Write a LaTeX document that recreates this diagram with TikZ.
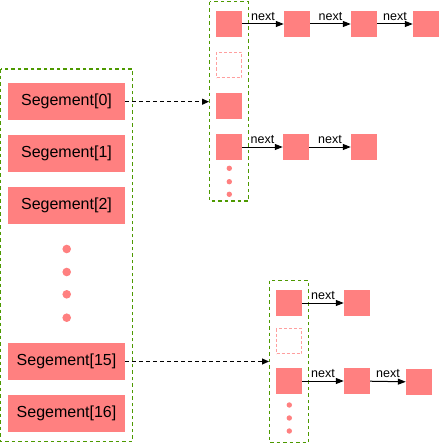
\documentclass[tikz,border=0pt]{standalone}
\usepackage{fontspec}
\setmainfont{Liberation Sans}
\usetikzlibrary{arrows.meta}
\definecolor{salmon}{HTML}{FF8080}
\definecolor{lightsalmon}{HTML}{FF9F9F}
\definecolor{grn}{HTML}{4D9900}
\begin{document}
\begin{tikzpicture}[x=1pt,y=-1pt,
  cell/.style={fill=salmon,minimum size=26pt,inner sep=0pt},
  emptycell/.style={draw=lightsalmon,dashed,dash pattern=on 3pt off 2pt,line width=1pt,minimum size=25pt,inner sep=0pt},
  seg/.style={fill=salmon,minimum width=117pt,minimum height=36.7pt,inner sep=0pt,font=\fontsize{16}{19}\selectfont},
  box/.style={draw=grn,line width=1.3pt,dash pattern=on 3.5pt off 3pt},
  nxt/.style={-{Triangle[length=8pt,width=6pt]},line width=1pt,black},
  lbl/.style={font=\fontsize{12.5}{14}\selectfont,inner sep=0pt,anchor=south,yshift=3pt},
  link/.style={-{Triangle[length=7pt,width=6pt]},line width=1pt,black,dash pattern=on 3.5pt off 3.5pt},
  dot/.style={circle,fill=salmon,inner sep=0pt}]
\useasboundingbox (0,0) rectangle (440,444);
% containers
\draw[box] (0.7,69) rectangle (132.5,441.5);
\draw[box] (209.5,1.7) rectangle (248.3,201);
\draw[box] (269.5,280.7) rectangle (308.7,442.5);
% segments
\node[seg] (s0) at (66.5,101.7) {Segement[0]};
\node[seg] (s1) at (66.5,153.3) {Segement[1]};
\node[seg] (s2) at (66.5,205.3) {Segement[2]};
\node[seg] (s15) at (66.5,361.5) {Segement[15]};
\node[seg] (s16) at (66.5,413.3) {Segement[16]};
\foreach \y/\n in {249/a,272/b,294.3/c,317.7/d}
  \node[dot,minimum size=8.6pt] (ld\n) at (66.7,\y) {};
% top bucket
\node[cell] (t1) at (229,24) {};
\node[emptycell] (t2) at (229,65) {};
\node[cell] (t3) at (229,106) {};
\node[cell] (t4) at (229,147) {};
\foreach \y/\n in {168.3/a,181.7/b,194.3/c}
  \node[dot,minimum size=5.4pt] (td\n) at (229.3,\y) {};
\node[cell] (t1b) at (297,24) {};
\node[cell] (t1c) at (364,24) {};
\node[cell] (t1d) at (426,24) {};
\node[cell] (t4b) at (296,147) {};
\node[cell] (t4c) at (364,147) {};
\draw[nxt] (t1) -- node[lbl]{next} (t1b);
\draw[nxt] (t1b) -- node[lbl]{next} (t1c);
\draw[nxt] (t1c) -- node[lbl]{next} (t1d);
\draw[nxt] (t4) -- node[lbl]{next} (t4b);
\draw[nxt] (t4b) -- node[lbl]{next} (t4c);
% bottom bucket
\node[cell] (b1) at (289,303) {};
\node[emptycell] (b2) at (289,341) {};
\node[cell] (b3) at (289,381) {};
\foreach \y/\n in {405/a,418/b,431/c}
  \node[dot,minimum size=5.4pt] (bd\n) at (289.3,\y) {};
\node[cell] (b1b) at (357,303) {};
\node[cell] (b3b) at (357,381) {};
\node[cell] (b3c) at (419,382) {};
\draw[nxt] (b1) -- node[lbl]{next} (b1b);
\draw[nxt] (b3) -- node[lbl]{next} (b3b);
\draw[nxt] (b3b) -- node[lbl]{next} (b3c);
% links
\coordinate (e0) at (209,101.7);
\coordinate (e15) at (269,361.5);
\draw[link] (s0.east) -- (e0);
\draw[link] (s15.east) -- (e15);
\end{tikzpicture}
\end{document}
